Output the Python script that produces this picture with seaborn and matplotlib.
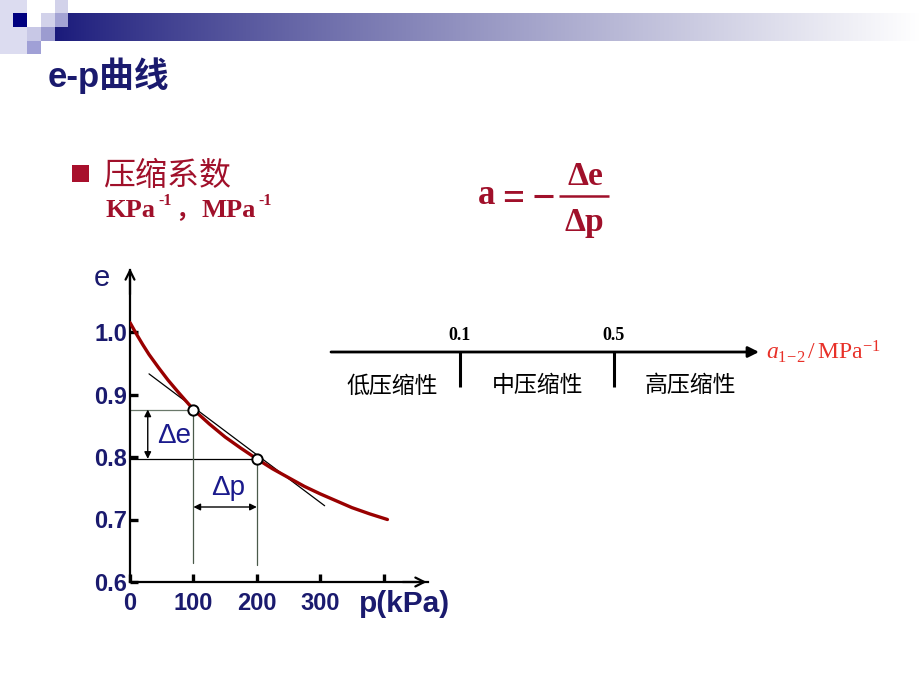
import numpy as np
import pandas as pd
import matplotlib
matplotlib.use("Agg")
import matplotlib.pyplot as plt
from matplotlib.patches import Rectangle
import seaborn as sns

# ---------------- data ----------------
p_curve = [0, 10, 20, 30, 45, 60, 75, 100, 125, 150, 175, 200, 225, 250, 275,
           300, 325, 350, 378, 406]
e_curve = [1.015, 0.997, 0.980, 0.964, 0.943, 0.923, 0.905, 0.876, 0.853, 0.832,
           0.814, 0.797, 0.781, 0.767, 0.753, 0.741, 0.730, 0.719, 0.709, 0.700]
p_points = [100, 200]
e_points = [0.876, 0.797]
tangent_p = [30, 307]
tangent_e = [0.933, 0.722]
y_ticks = [0.6, 0.7, 0.8, 0.9, 1.0]
y_tick_labels = ["0.6", "0.7", "0.8", "0.9", "1.0"]
x_ticks = [0, 100, 200, 300, 400]
x_tick_labels = ["0", "100", "200", "300", ""]
guide_bottom = 0.63
scale_thresholds = ["0.1", "0.5"]
scale_categories = ["低压缩性", "中压缩性", "高压缩性"]

NAVY = "#1a1a6e"
DARKRED = "#a0102a"
CURVE = "#990000"
SERIF = ["Liberation Serif"]

sns.set_theme(style="white")
plt.rcParams["font.family"] = ["Liberation Sans", "Noto Sans CJK SC", "DejaVu Sans"]
plt.rcParams["mathtext.fontset"] = "custom"
plt.rcParams["mathtext.rm"] = "Liberation Serif"
plt.rcParams["mathtext.bf"] = "Liberation Serif:bold"
plt.rcParams["mathtext.it"] = "Liberation Serif:italic"

fig = plt.figure(figsize=(9.2, 6.9), dpi=100)
fig.patch.set_facecolor("white")

# -------- background / decoration axes in pixel coords --------
bg = fig.add_axes([0, 0, 1, 1])
bg.set_xlim(0, 920)
bg.set_ylim(690, 0)
bg.axis("off")

t = np.linspace(0, 1, 500) ** 0.85
start = np.array([0.10, 0.10, 0.48])
img = start[None, :] + (1 - start[None, :]) * t[:, None]
bg.imshow(img[None, :, :], extent=[55, 920, 41, 13], aspect="auto", zorder=1)
for (x, y, w, h, c) in [
    (0, 0, 27, 54, "#dcdcf0"),
    (13, 13, 14, 14, "#000080"),
    (27, 27, 14, 14, "#c8c8e6"),
    (27, 41, 14, 13, "#a0a0d6"),
    (41, 13, 14, 14, "#d2d2ea"),
    (41, 27, 14, 14, "#9c9cd0"),
    (55, 0, 13, 13, "#d2d2ea"),
    (55, 13, 13, 14, "#a4a4d4"),
]:
    bg.add_patch(Rectangle((x, y), w, h, color=c, lw=0, zorder=2))

# title
bg.text(48, 76, "e-p曲线", fontsize=25, fontweight="bold", color=NAVY,
        va="center", ha="left")

# bullet and texts
bg.add_patch(Rectangle((72, 165), 17, 17, color="#a8102c", lw=0))
bg.text(103, 176, "压缩系数", fontsize=23, color=DARKRED, va="center", ha="left",
        family=["Noto Sans CJK SC", "DejaVu Sans"])
unit_parts = [("KPa", 106), ("MPa", 202)]
for txt, x0 in unit_parts:
    bg.text(x0, 217, txt, fontsize=19, fontweight="bold", color=DARKRED,
            va="baseline", ha="left", family=SERIF)
for x0 in [158, 258]:
    bg.text(x0, 205, "-1", fontsize=11.5, fontweight="bold", color=DARKRED,
            va="baseline", ha="left", family=SERIF)
bg.text(175, 217, "，", fontsize=17, color=DARKRED, va="baseline", ha="left",
        family=["Noto Sans CJK SC"], fontweight="bold")

# formula  a = -Δe/Δp
bg.text(478, 204, "a", fontsize=25, fontweight="bold", color=DARKRED,
        va="baseline", ha="left", family=SERIF)
bg.text(513, 196, "=", fontsize=28, fontweight="bold", color=DARKRED,
        va="center_baseline", ha="center", family=SERIF)
bg.plot([534, 553], [196, 196], color=DARKRED, lw=2.2, solid_capstyle="butt")
bg.plot([559, 609], [196, 196], color=DARKRED, lw=1.8, solid_capstyle="butt")
bg.text(585, 185, "Δe", fontsize=24, fontweight="bold", color=DARKRED,
        va="baseline", ha="center", family=SERIF)
bg.text(584, 231, "Δp", fontsize=24, fontweight="bold", color=DARKRED,
        va="baseline", ha="center", family=SERIF)

# compressibility scale
bg.annotate("", xy=(759, 352), xytext=(331, 352),
            arrowprops=dict(arrowstyle="-|>", lw=2, color="black",
                            mutation_scale=16, shrinkA=0, shrinkB=0))
for xpos, lab in zip([460, 614], scale_thresholds):
    bg.plot([xpos, xpos], [352, 387], color="black", lw=2.2, solid_capstyle="butt")
    bg.text(xpos, 335, lab, fontsize=13, fontweight="bold", color="black",
            ha="center", va="center", family=SERIF)
for xpos, lab in zip([392, 538, 690], scale_categories):
    bg.text(xpos, 386, lab, fontsize=16.5, color="black", ha="center", va="center",
            family=["Noto Sans CJK SC"])
bg.text(766, 352, r"$a_{1\!-\!2}\,/\,\mathrm{MPa}^{-1}$", fontsize=17,
        color="#e83028", ha="left", va="center")

# ---------------- main e-p chart ----------------
ax = fig.add_axes([130 / 920, (690 - 582) / 690, 298 / 920, 312.5 / 690])
ax.patch.set_alpha(0)
df = pd.DataFrame({"p": p_curve, "e": e_curve})
sns.lineplot(data=df, x="p", y="e", color=CURVE, lw=2.4, ax=ax, sort=True,
             zorder=3)
sns.lineplot(x=tangent_p, y=tangent_e, color="black", lw=0.9, ax=ax, zorder=2)

# guide lines
ax.plot([0, p_points[0]], [e_points[0], e_points[0]], color="#6a786a", lw=0.9, zorder=1)
ax.plot([0, p_points[1]], [e_points[1], e_points[1]], color="black", lw=0.9, zorder=1)
ax.plot([p_points[0], p_points[0]], [e_points[0], guide_bottom], color="#4a5a4a",
        lw=0.9, zorder=1)
ax.plot([p_points[1], p_points[1]], [e_points[1], guide_bottom - 0.003],
        color="#4a5a4a", lw=0.9, zorder=1)

sns.scatterplot(x=p_points, y=e_points, s=55, color="white", edgecolor="black",
                linewidth=1.4, ax=ax, zorder=5)

# delta arrows
ax.annotate("", xy=(28, e_points[1]), xytext=(28, e_points[0]),
            arrowprops=dict(arrowstyle="<|-|>", lw=1.0, color="black",
                            mutation_scale=10, shrinkA=0, shrinkB=0))
ax.annotate("", xy=(p_points[1], 0.72), xytext=(p_points[0], 0.72),
            arrowprops=dict(arrowstyle="<|-|>", lw=1.0, color="black",
                            mutation_scale=10, shrinkA=0, shrinkB=0))
ax.text(43, 0.822, "Δe", fontsize=20, color="#1a1a8c", ha="left", va="baseline")
ax.text(155, 0.739, "Δp", fontsize=20, color="#1a1a8c", ha="center", va="baseline")

ax.set_xlim(0, 470)
ax.set_ylim(0.6, 1.1)
ax.set_xlabel("")
ax.set_ylabel("")
for s in ["top", "right"]:
    ax.spines[s].set_visible(False)
for s in ["left", "bottom"]:
    ax.spines[s].set_color("black")
    ax.spines[s].set_linewidth(1.6)
ax.annotate("", xy=(0, 1.102), xytext=(0, 1.06),
            arrowprops=dict(arrowstyle="->", lw=1.6, color="black",
                            mutation_scale=16, shrinkA=0, shrinkB=0),
            annotation_clip=False)
ax.annotate("", xy=(468, 0.6), xytext=(430, 0.6),
            arrowprops=dict(arrowstyle="->", lw=1.6, color="black",
                            mutation_scale=16, shrinkA=0, shrinkB=0),
            annotation_clip=False)

ax.set_yticks(y_ticks)
ax.set_yticklabels(y_tick_labels)
ax.set_xticks(x_ticks)
ax.set_xticklabels(x_tick_labels)
ax.tick_params(axis="both", direction="in", length=5.5, width=2.4, color="black",
               labelcolor=NAVY, labelsize=17, bottom=True, left=True)
ax.tick_params(axis="x", pad=7)
ax.tick_params(axis="y", pad=2)
for lab in ax.get_xticklabels() + ax.get_yticklabels():
    lab.set_fontweight("bold")

bg.text(102, 278, "e", fontsize=21, color=NAVY, ha="center", va="center")
bg.text(359, 612, "p(kPa)", fontsize=21.5, fontweight="bold", color=NAVY,
        ha="left", va="baseline")

fig.savefig("out.png", dpi=100, facecolor="white")
